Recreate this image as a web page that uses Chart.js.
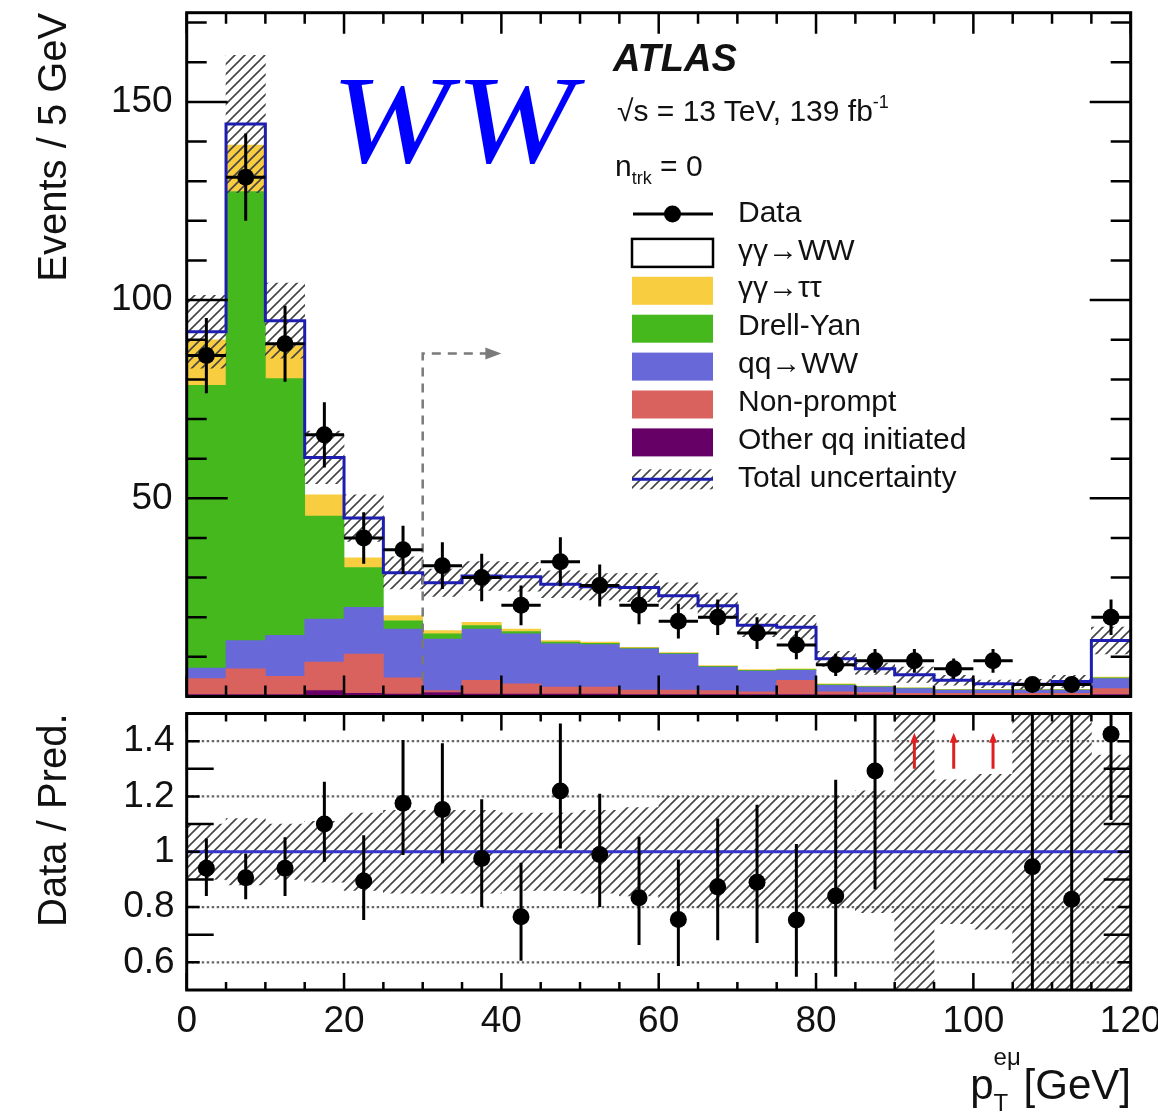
<!DOCTYPE html>
<html>
<head>
<meta charset="utf-8">
<script src="https://cdn.jsdelivr.net/npm/chart.js@4.4.1/dist/chart.umd.min.js"></script>
<style>
html,body{margin:0;padding:0;background:#ffffff;}
#wrap{position:relative;width:1158px;height:1114px;overflow:hidden;font-family:"Liberation Sans",Arial,Helvetica,sans-serif;color:#111;}
#c1,#c2{position:absolute;left:0;}
#c1{top:0;width:1158px;height:705px;}
#c2{top:705px;width:1158px;height:409px;}
.t{position:absolute;white-space:nowrap;line-height:1;}
.leg{font-size:30px;left:738px;}
</style>
</head>
<body>
<div id="wrap">
<canvas id="c1" width="1158" height="705"></canvas>
<canvas id="c2" width="1158" height="409"></canvas>
<div class="t" style="left:331px;top:58px;font-family:'Liberation Serif','Times New Roman',serif;font-style:italic;font-size:125px;color:#0000ff;letter-spacing:5px;transform:scaleX(1.14);transform-origin:0 0;">WW</div>
<div class="t" style="left:613px;top:39px;font-size:38px;font-weight:bold;font-style:italic;">ATLAS</div>
<div class="t" style="left:617px;top:96px;font-size:30px;">√s = 13 TeV, 139 fb<span style="font-size:18px;position:relative;top:-13px;">-1</span></div>
<div class="t" style="left:615px;top:151px;font-size:30px;">n<span style="font-size:18px;position:relative;top:8px;">trk</span> = 0</div>
<div class="t leg" style="top:196.6px;">Data</div>
<div class="t leg" style="top:234.5px;">γγ→WW</div>
<div class="t leg" style="top:272.4px;">γγ→ττ</div>
<div class="t leg" style="top:310.3px;">Drell-Yan</div>
<div class="t leg" style="top:348.2px;">qq→WW</div>
<div class="t leg" style="top:386.1px;">Non-prompt</div>
<div class="t leg" style="top:424px;">Other qq initiated</div>
<div class="t leg" style="top:461.9px;">Total uncertainty</div>
<div class="t" style="right:27px;top:1057px;font-size:42px;">p<span style="display:inline-block;position:relative;width:30px;height:1em;vertical-align:baseline;"><span style="position:absolute;left:0px;top:-12px;font-size:24px;">eμ</span><span style="position:absolute;left:0px;top:34px;font-size:24px;">T</span></span>[GeV]</div>
</div>
<script>
// ---------------- data ----------------
const BIN_W = 5;
const binLow = [0,5,10,15,20,25,30,35,40,45,50,55,60,65,70,75,80,85,90,95,100,105,110,115];
const xTicks = [0,20,40,60,80,100,120];
const mainYTicks = [50,100,150];
const ratioYTicks = [0.6,0.8,1,1.2,1.4];

// stacked predictions, bottom to top
const otherQQ   = [0.5,0.5,0.5,1.5,0.8,0.6,1.0,0.6,0.6,0.6,0.6,0.5,0.5,0.5,0.5,0.5,0.4,0.4,0.3,0.3,0.3,0.3,0.3,0.5];
const nonPrompt = [4.0,6.5,4.6,7.2,9.9,4.1,0.5,3.5,2.6,1.8,1.8,1.1,1.1,1.0,0.7,3.6,0.8,0.6,0.5,0.5,0.5,0.5,0.5,1.5];
const qqWW      = [2.7,7.1,10.3,10.8,11.8,12.3,13.0,12.9,12.6,10.9,10.7,10.4,9.1,5.9,5.2,2.5,1.6,1.4,1.2,0.8,0.8,0.8,0.8,2.5];
const drellYan  = [71.3,113.3,64.8,26.0,10.0,2.1,1.3,0.9,0.6,0.4,0.3,0.2,0.2,0.2,0.2,0.2,0.2,0.1,0.1,0.1,0.1,0.1,0.1,0.2];
const yyTauTau  = [11.5,11.7,8.3,5.4,2.5,1.3,0.8,0.8,0.6,0.4,0.3,0.2,0.2,0.2,0.2,0.2,0.2,0.1,0.1,0.1,0.1,0.1,0.1,0.2];
const yyWW      = [2.0,5.3,6.3,9.4,10.0,10.8,12.1,11.7,13.2,14.2,14.0,15.1,14.3,15.1,11.2,10.5,6.3,4.4,3.3,2.3,1.4,1.3,2.0,9.2];

// relative total uncertainty in the main panel
const mainUncRel  = [0.10,0.12,0.10,0.11,0.13,0.13,0.12,0.12,0.12,0.12,0.12,0.13,0.13,0.14,0.16,0.17,0.20,0.20,0.35,0.30,0.30,0.40,0.40,0.24];
// uncertainty band in the ratio panel (lower / upper edge)
const ratioBandLo = [0.90,0.88,0.90,0.89,0.86,0.85,0.85,0.85,0.86,0.86,0.85,0.84,0.80,0.80,0.80,0.80,0.80,0.78,0.20,0.74,0.72,0.20,0.20,0.45];
const ratioBandHi = [1.10,1.12,1.10,1.11,1.14,1.15,1.15,1.15,1.14,1.14,1.15,1.16,1.20,1.20,1.20,1.20,1.20,1.22,1.80,1.26,1.28,1.80,1.80,1.35];

// data
const dataCounts = [86,131,89,66,40,37,33,30,23,34,28,23,19,20,16,13,8,9,9,7,9,3,3,20];
const dataErr    = [9.5,11,9.6,8.2,6.5,6.1,5.9,6.0,5.0,6.2,5.3,4.8,4.4,4.5,4.0,3.6,2.8,3.0,3.0,2.6,3.0,1.7,1.8,4.5];

// ratio panel
const ratioVals = [0.94,0.906,0.94,1.10,0.894,1.175,1.153,0.976,0.765,1.22,0.99,0.834,0.755,0.873,0.89,0.753,0.84,1.292,1.65,1.71,2.84,0.946,0.828,1.425];
const ratioLo   = [0.840,0.828,0.840,0.964,0.753,0.988,0.958,0.800,0.606,1.012,0.800,0.663,0.587,0.680,0.670,0.548,0.548,0.864,1.2,1.2,1.2,0.30,0.30,1.115];
const ratioHi   = [1.048,0.994,1.052,1.253,1.060,1.404,1.392,1.190,0.960,1.464,1.210,1.054,0.972,1.120,1.170,1.028,1.260,1.800,2.2,2.2,3.5,1.90,1.90,1.750];

// ---------------- styles ----------------
const COL = {
  other:'#660066', nonprompt:'#d9625f', qqww:'#6868d8', dy:'#45b81e', ytt:'#f8cd40', yyww:'#ffffff',
  total:'#1d1db0', unity:'#3535cc', hatch:'#444444', arrow:'#e02020', dash:'#7a7a7a'
};
Chart.defaults.font.family = "'Liberation Sans', Arial, sans-serif";
Chart.defaults.color = '#111';

function hatch(canvasId, color, size, lw) {
  const c = document.createElement('canvas'); c.width = size; c.height = size;
  const g = c.getContext('2d');
  g.strokeStyle = color; g.lineWidth = lw;
  g.beginPath();
  g.moveTo(0, size); g.lineTo(size, 0);
  g.moveTo(-size/2, size/2); g.lineTo(size/2, -size/2);
  g.moveTo(size/2, size*1.5); g.lineTo(size*1.5, size/2);
  g.stroke();
  return document.getElementById(canvasId).getContext('2d').createPattern(c, 'repeat');
}
const hatch1 = hatch('c1', COL.hatch, 10, 1.6);
const hatch2 = hatch('c2', COL.hatch, 10, 1.6);

const centers = binLow.map(b => b + BIN_W/2);
const totalPred = binLow.map((_, i) => otherQQ[i]+nonPrompt[i]+qqWW[i]+drellYan[i]+yyTauTau[i]+yyWW[i]);

// ---------------- plugins ----------------
const framePlugin = {
  id: 'frame',
  afterDraw(chart, args, o) {
    const {ctx, chartArea: a, scales: {x, y}} = chart;
    ctx.save();
    ctx.strokeStyle = '#000';
    ctx.lineWidth = 2.5;
    ctx.beginPath();
    for (let k = 0; k <= 24; k++) {
      const v = k * 5;
      const px = x.getPixelForValue(v);
      const L = (v % 20 === 0) ? o.xMajor : o.xMinor;
      ctx.moveTo(px, a.top); ctx.lineTo(px, a.top + L);
      ctx.moveTo(px, a.bottom); ctx.lineTo(px, a.bottom - L);
    }
    const n = Math.round((o.yTop - o.yStart) / o.yMinorStep);
    for (let k = 0; k <= n; k++) {
      const v = o.yStart + k * o.yMinorStep;
      const py = y.getPixelForValue(v);
      if (py < a.top + 1 || py > a.bottom - 1) continue;
      const L = (k % o.majorEvery === 0) ? o.yMajor : o.yMinor;
      ctx.moveTo(a.left, py); ctx.lineTo(a.left + L, py);
      ctx.moveTo(a.right, py); ctx.lineTo(a.right - L, py);
    }
    ctx.stroke();
    ctx.lineWidth = 3;
    ctx.strokeRect(a.left, a.top, a.right - a.left, a.bottom - a.top);
    ctx.restore();
  }
};

const mainExtras = {
  id: 'mainExtras',
  afterDatasetsDraw(chart) {
    const {ctx, chartArea: a, scales: {x, y}} = chart;
    ctx.save();
    // dashed selection arrow at 30 GeV
    const xd = x.getPixelForValue(30), yd = y.getPixelForValue(86.5), xe = x.getPixelForValue(40);
    ctx.strokeStyle = COL.dash; ctx.fillStyle = COL.dash; ctx.lineWidth = 2.5;
    ctx.setLineDash([9, 7]);
    ctx.beginPath(); ctx.moveTo(xd, a.bottom); ctx.lineTo(xd, yd); ctx.lineTo(xe - 12, yd); ctx.stroke();
    ctx.setLineDash([]);
    ctx.beginPath(); ctx.moveTo(xe, yd); ctx.lineTo(xe - 16, yd - 6); ctx.lineTo(xe - 16, yd + 6); ctx.closePath(); ctx.fill();
    // data error bars
    ctx.strokeStyle = '#000'; ctx.lineWidth = 3;
    ctx.beginPath();
    dataCounts.forEach((v, i) => {
      const xc = x.getPixelForValue(centers[i]);
      const xl = x.getPixelForValue(binLow[i]), xr = x.getPixelForValue(binLow[i] + BIN_W);
      const yc = y.getPixelForValue(v);
      ctx.moveTo(xl, yc); ctx.lineTo(xr, yc);
      ctx.moveTo(xc, y.getPixelForValue(v - dataErr[i])); ctx.lineTo(xc, y.getPixelForValue(v + dataErr[i]));
    });
    ctx.stroke();
    ctx.restore();
  },
  afterDraw(chart) {
    // legend symbols
    const ctx = chart.ctx;
    ctx.save();
    const x0 = 632, x1 = 713, pitch = 37.9, c0 = 213;
    ctx.strokeStyle = '#000'; ctx.lineWidth = 3;
    ctx.beginPath(); ctx.moveTo(x0 + 1, c0 + 1); ctx.lineTo(x1, c0 + 1); ctx.stroke();
    ctx.fillStyle = '#000'; ctx.beginPath(); ctx.arc((x0 + x1) / 2, c0 + 1, 8.5, 0, Math.PI * 2); ctx.fill();
    const boxes = [COL.yyww, COL.ytt, COL.dy, COL.qqww, COL.nonprompt, COL.other];
    boxes.forEach((col, k) => {
      const cy = c0 + pitch * (k + 1) + 2;
      ctx.fillStyle = col; ctx.fillRect(x0, cy - 14, x1 - x0, 28);
      if (k === 0) { ctx.lineWidth = 2.5; ctx.strokeStyle = '#000'; ctx.strokeRect(x0, cy - 14, x1 - x0, 28); }
    });
    const cu = c0 + pitch * 7 + 1;
    ctx.fillStyle = hatch1; ctx.fillRect(x0, cu - 10, x1 - x0, 20);
    ctx.strokeStyle = COL.total; ctx.lineWidth = 3;
    ctx.beginPath(); ctx.moveTo(x0, cu); ctx.lineTo(x1, cu); ctx.stroke();
    ctx.restore();
  }
};

const ratioExtras = {
  id: 'ratioExtras',
  beforeDatasetsDraw(chart) {
    const {ctx, chartArea: a, scales: {y}} = chart;
    ctx.save();
    ctx.strokeStyle = '#666666'; ctx.lineWidth = 2.2; ctx.setLineDash([2.5, 2.5]);
    y.ticks.forEach(t => {
      const py = y.getPixelForValue(t.value);
      ctx.beginPath(); ctx.moveTo(a.left, py); ctx.lineTo(a.right, py); ctx.stroke();
    });
    ctx.restore();
  },
  afterDatasetsDraw(chart) {
    const {ctx, chartArea: a, scales: {x, y}} = chart;
    ctx.save();
    ctx.beginPath(); ctx.rect(a.left, a.top, a.right - a.left, a.bottom - a.top); ctx.clip();
    ctx.strokeStyle = '#000'; ctx.lineWidth = 3;
    ctx.beginPath();
    ratioVals.forEach((r, i) => {
      if (r > y.max) return;
      const xc = x.getPixelForValue(centers[i]);
      ctx.moveTo(xc, y.getPixelForValue(ratioLo[i])); ctx.lineTo(xc, y.getPixelForValue(ratioHi[i]));
    });
    ctx.stroke();
    // out-of-range arrows
    ctx.strokeStyle = COL.arrow; ctx.fillStyle = COL.arrow; ctx.lineWidth = 3;
    ratioVals.forEach((r, i) => {
      if (r <= y.max) return;
      const xc = x.getPixelForValue(centers[i]);
      const yb = y.getPixelForValue(1.30), yt = y.getPixelForValue(1.43);
      ctx.beginPath(); ctx.moveTo(xc, yb); ctx.lineTo(xc, yt + 6); ctx.stroke();
      ctx.beginPath(); ctx.moveTo(xc, yt); ctx.lineTo(xc - 4, yt + 10); ctx.lineTo(xc + 4, yt + 10); ctx.closePath(); ctx.fill();
    });
    ctx.restore();
  }
};

// ---------------- main panel ----------------
const stackDefs = [
  {label:'Other qq initiated', values: otherQQ,   color: COL.other},
  {label:'Non-prompt',         values: nonPrompt, color: COL.nonprompt},
  {label:'qq→WW',              values: qqWW,      color: COL.qqww},
  {label:'Drell-Yan',          values: drellYan,  color: COL.dy},
  {label:'γγ→ττ',              values: yyTauTau,  color: COL.ytt},
  {label:'γγ→WW',              values: yyWW,      color: COL.yyww}
];

new Chart(document.getElementById('c1'), {
  type: 'bar',
  data: {
    datasets: [
      {
        type: 'line', label: 'Data', stack: 'data', order: 0,
        data: centers.map((c, i) => ({x: c, y: dataCounts[i]})),
        showLine: false, pointRadius: 8.5, pointBackgroundColor: '#000', pointBorderWidth: 0
      },
      {
        type: 'line', label: 'Total', stack: 'total', order: 1,
        data: binLow.map((b, i) => ({x: b, y: totalPred[i]})).concat([{x: binLow[binLow.length-1] + BIN_W, y: totalPred[totalPred.length-1]}]),
        stepped: 'before', borderColor: COL.total, borderWidth: 3, pointRadius: 0, fill: false
      },
      {
        type: 'bar', label: 'Total uncertainty', stack: 'unc', order: 2,
        data: centers.map((c, i) => ({x: c, y: [totalPred[i] * (1 - mainUncRel[i]), totalPred[i] * (1 + mainUncRel[i])]})),
        backgroundColor: hatch1
      },
      ...stackDefs.map(d => ({
        type: 'bar', label: d.label, stack: 'mc', order: 3,
        data: centers.map((c, i) => ({x: c, y: d.values[i]})),
        backgroundColor: d.color
      }))
    ]
  },
  options: {
    responsive: false, maintainAspectRatio: false, animation: false, events: [],
    layout: {padding: {left: 0, right: 27.3, top: 12.7, bottom: 6}},
    datasets: {bar: {grouped: false, barPercentage: 1, categoryPercentage: 1, borderWidth: 0}},
    plugins: {
      legend: {display: false}, tooltip: {enabled: false},
      frame: {xMajor: 21, xMinor: 11, yStart: 0, yTop: 170, yMinorStep: 10, majorEvery: 5, yMajor: 41, yMinor: 20}
    },
    scales: {
      x: {type: 'linear', min: 0, max: 120, offset: false, display: false, grid: {offset: false}},
      y: {
        type: 'linear', min: 0, max: 172.5, stacked: true,
        grid: {display: false, drawTicks: false}, border: {display: false},
        afterBuildTicks: s => { s.ticks = mainYTicks.map(v => ({value: v})); },
        ticks: {padding: 14, font: {size: 37}, color: '#111'},
        title: {display: true, text: 'Events / 5 GeV', align: 'end', font: {size: 40, lineHeight: 1.2}, padding: {top: 31, bottom: 0}, color: '#111'},
        afterFit: s => { s.width = 186.7; s.paddingTop = 0; s.paddingBottom = 0; }
      }
    }
  },
  plugins: [framePlugin, mainExtras]
});

// ---------------- ratio panel ----------------
new Chart(document.getElementById('c2'), {
  type: 'bar',
  data: {
    datasets: [
      {
        type: 'line', label: 'Data / Pred.', order: 0, stack: 'r',
        data: centers.map((c, i) => ({x: c, y: ratioVals[i]})),
        showLine: false, pointRadius: 8.5, pointBackgroundColor: '#000', pointBorderWidth: 0
      },
      {
        type: 'line', label: 'unity', order: 1, stack: 'u',
        data: [{x: 0, y: 1}, {x: 120, y: 1}],
        borderColor: COL.unity, borderWidth: 3, pointRadius: 0, fill: false
      },
      {
        type: 'bar', label: 'Total uncertainty', order: 2,
        data: centers.map((c, i) => ({x: c, y: [ratioBandLo[i], ratioBandHi[i]]})),
        backgroundColor: hatch2
      }
    ]
  },
  options: {
    responsive: false, maintainAspectRatio: false, animation: false, events: [],
    layout: {padding: {left: 0, right: 27.3, top: 8.3, bottom: 0}},
    datasets: {bar: {grouped: false, barPercentage: 1, categoryPercentage: 1, borderWidth: 0}},
    plugins: {
      legend: {display: false}, tooltip: {enabled: false},
      frame: {xMajor: 17, xMinor: 8, yStart: 0.5, yTop: 1.5, yMinorStep: 0.1, majorEvery: 2, yMajor: 27, yMinor: 13}
    },
    scales: {
      x: {
        type: 'linear', min: 0, max: 120, offset: false,
        grid: {display: false, drawTicks: false, offset: false}, border: {display: false},
        afterBuildTicks: s => { s.ticks = xTicks.map(v => ({value: v})); },
        ticks: {padding: 10, font: {size: 37}, color: '#111', maxRotation: 0, autoSkip: false},
        afterFit: s => { s.height = 124; s.paddingLeft = 0; s.paddingRight = 0; }
      },
      y: {
        type: 'linear', min: 0.5, max: 1.5,
        grid: {display: false, drawTicks: false}, border: {display: false},
        afterBuildTicks: s => { s.ticks = ratioYTicks.map(v => ({value: v})); },
        ticks: {padding: 12, font: {size: 37}, color: '#111',
                callback: v => String(Number(v.toFixed(1)))},
        title: {display: true, text: 'Data / Pred.', align: 'end', font: {size: 40, lineHeight: 1.2}, padding: {top: 31, bottom: 0}, color: '#111'},
        afterFit: s => { s.width = 186.7; s.paddingTop = 0; s.paddingBottom = 0; }
      }
    }
  },
  plugins: [framePlugin, ratioExtras]
});
</script>
</body>
</html>
